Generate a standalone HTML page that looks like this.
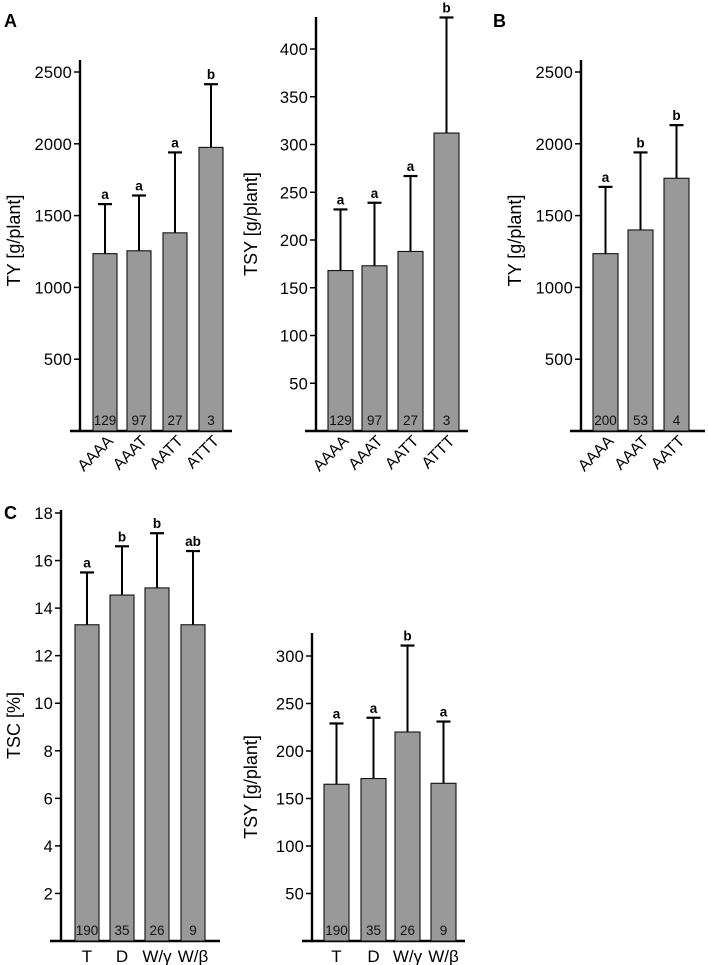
<!DOCTYPE html>
<html><head><meta charset="utf-8"><style>
html,body{margin:0;padding:0;background:#fff;}
svg{display:block;font-family:"Liberation Sans",Arial,sans-serif;}
</style></head><body>
<svg id="fig" width="708" height="965" viewBox="0 0 708 965">
<text x="4" y="27" font-size="18" font-weight="bold">A</text>
<text x="493" y="27" font-size="18" font-weight="bold">B</text>
<text x="4" y="519" font-size="18" font-weight="bold">C</text>
</svg>
<script>
// Panel A1: TY by genotype
const a1Categories = ["AAAA","AAAT","AATT","ATTT"];
const a1Values = [1235,1255,1380,1975];
const a1Errors = [1580,1640,1940,2415];
const a1Letters = ["a","a","a","b"];
const a1Counts = ["129","97","27","3"];
const a1Ticks = [500,1000,1500,2000,2500];
// Panel A2: TSY by genotype
const a2Categories = ["AAAA","AAAT","AATT","ATTT"];
const a2Values = [168,173,188,312];
const a2Errors = [232,239,267,433];
const a2Letters = ["a","a","a","b"];
const a2Counts = ["129","97","27","3"];
const a2Ticks = [50,100,150,200,250,300,350,400];
// Panel B: TY
const bCategories = ["AAAA","AAAT","AATT"];
const bValues = [1235,1400,1760];
const bErrors = [1700,1940,2130];
const bLetters = ["a","b","b"];
const bCounts = ["200","53","4"];
const bTicks = [500,1000,1500,2000,2500];
// Panel C1: TSC
const c1Categories = ["T","D","W/γ","W/β"];
const c1Values = [13.3,14.55,14.85,13.3];
const c1Errors = [15.5,16.6,17.15,16.4];
const c1Letters = ["a","b","b","ab"];
const c1Counts = ["190","35","26","9"];
const c1Ticks = [2,4,6,8,10,12,14,16,18];
// Panel C2: TSY
const c2Categories = ["T","D","W/γ","W/β"];
const c2Values = [165,171,220,166];
const c2Errors = [229,235,311,231];
const c2Letters = ["a","a","b","a"];
const c2Counts = ["190","35","26","9"];
const c2Ticks = [50,100,150,200,250,300];

const NS="http://www.w3.org/2000/svg";
const svg=document.getElementById('fig');
function mk(tag,attrs,parent){const e=document.createElementNS(NS,tag);for(const k in attrs)e.setAttribute(k,attrs[k]);(parent||svg).appendChild(e);return e;}

function panel(id,cfg,cats,vals,errs,letters,counts,ticks){
  const g=mk('g',{});
  
  
  const y=v=>cfg.base-(v-0)*(cfg.base-cfg.refY)/cfg.refV;
  const ax=mk('line',{x1:cfg.ax,y1:cfg.top,x2:cfg.ax,y2:cfg.base+1,stroke:'#000','stroke-width':2.4},g);
  
  
  const bx=mk('line',{x1:cfg.bx0,y1:cfg.base,x2:cfg.bx1,y2:cfg.base,stroke:'#000','stroke-width':2.4},g);
  
  
  ticks.forEach(t=>{
    const ty=y(t);
    const tl=mk('line',{x1:cfg.ax-6,y1:ty,x2:cfg.ax,y2:ty,stroke:'#000','stroke-width':1.5},g);
    
    
    const tt=mk('text',{x:cfg.ax-8,y:ty+6,'font-size':16.5,'text-anchor':'end',fill:'#000','letter-spacing':'0.2'},g);
    tt.textContent=t;
    
    
  });
  const tc=cfg.titleX, tm=(cfg.top+cfg.base)/2+cfg.titleDy;
  const title=mk('text',{x:tc,y:tm,'font-size':18,'text-anchor':'middle',transform:`rotate(-90 ${tc} ${tm})`},g);
  title.textContent=cfg.title;
  
  
  cats.forEach((c,i)=>{
    const x0=cfg.bars[i], w=cfg.bw, cx=x0+w/2;
    const top=y(vals[i]), et=y(errs[i]);
    const el=mk('line',{x1:cx,y1:top,x2:cx,y2:et,stroke:'#000','stroke-width':2},g);
    
    
    const cap=mk('line',{x1:cx-7,y1:et,x2:cx+7,y2:et,stroke:'#000','stroke-width':2.2},g);
    
    
    const r=mk('rect',{x:x0,y:top,width:w,height:cfg.base-top,fill:'#999',stroke:'#111','stroke-width':1.1},g);
    
    
    const lt=mk('text',{x:cx,y:et-5,'font-size':13.5,'font-weight':'bold','text-anchor':'middle'},g);
    lt.textContent=letters[i];
    
    
    const ct=mk('text',{x:cx,y:cfg.base-6,'font-size':13.5,'text-anchor':'middle',fill:'#111'},g);
    ct.textContent=counts[i];
    
    
    let cl;
    if(cfg.rot){
      const lx=cx+9, ly=cfg.base+11;
      cl=mk('text',{x:lx,y:ly,'font-size':16,'text-anchor':'end',transform:`rotate(-45 ${lx} ${ly})`},g);
    } else {
      cl=mk('text',{x:cx,y:cfg.base+21,'font-size':17,'text-anchor':'middle'},g);
    }
    cl.textContent=c;
    
    
  });
}
panel('ty-a',{ax:80,top:60,base:431,refV:2500,refY:72,bx0:70,bx1:232,bars:[93,127,163,199],bw:24,title:'TY [g/plant]',titleX:20,titleDy:-5,rot:true},a1Categories,a1Values,a1Errors,a1Letters,a1Counts,a1Ticks);
panel('tsy-a',{ax:316,top:17,base:431,refV:400,refY:49,bx0:305,bx1:468,bars:[328,362,398,434],bw:25,title:'TSY [g/plant]',titleX:257,titleDy:0,rot:true},a2Categories,a2Values,a2Errors,a2Letters,a2Counts,a2Ticks);
panel('ty-b',{ax:581,top:60,base:431,refV:2500,refY:72,bx0:570,bx1:705,bars:[593,628,664],bw:25,title:'TY [g/plant]',titleX:521,titleDy:-5,rot:true},bCategories,bValues,bErrors,bLetters,bCounts,bTicks);
panel('tsc-c',{ax:61,top:510,base:941,refV:18,refY:513,bx0:50,bx1:220,bars:[75,110,145,181],bw:24,title:'TSC [%]',titleX:20,titleDy:0,rot:false},c1Categories,c1Values,c1Errors,c1Letters,c1Counts,c1Ticks);
panel('tsy-c',{ax:312,top:633,base:941,refV:300,refY:656,bx0:302,bx1:465,bars:[324,361,395,431],bw:25,title:'TSY [g/plant]',titleX:257,titleDy:0,rot:false},c2Categories,c2Values,c2Errors,c2Letters,c2Counts,c2Ticks);
</script>
</body></html>
